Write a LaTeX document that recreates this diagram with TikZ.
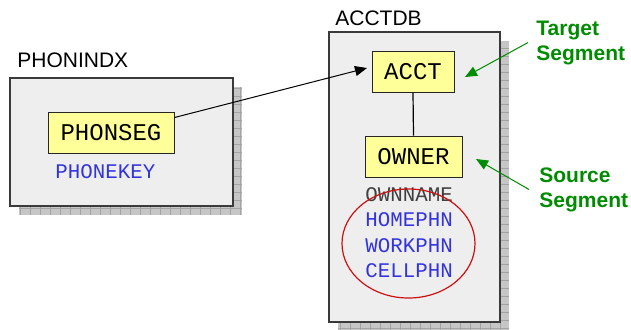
\documentclass[tikz,border=0pt]{standalone}
\usepackage{fontspec}
\setmainfont{Liberation Sans}
\newfontfamily\monofam{Liberation Mono}
\usetikzlibrary{arrows.meta,shapes.geometric}
\definecolor{dbfill}{HTML}{EEEEEE}
\definecolor{dbline}{HTML}{3A3A3A}
\definecolor{shadowfill}{HTML}{C6C6C6}
\definecolor{shadowgrid}{HTML}{A4A4A4}
\definecolor{segfill}{HTML}{FFFF99}
\definecolor{fieldblue}{HTML}{3333DD}
\definecolor{notegreen}{HTML}{008C00}
\definecolor{ringred}{HTML}{CC1111}
\begin{document}
\begin{tikzpicture}[x=0.5pt,y=-0.5pt,
  dbbox/.style={draw=dbline, line width=0.9pt, fill=dbfill, inner sep=0pt},
  segbox/.style={draw=black!85, line width=0.5pt, fill=segfill, inner sep=0pt,
    minimum height=20.5pt, font=\monofam\fontsize{12}{14}\selectfont},
  dbname/.style={anchor=west, inner sep=0pt, font=\fontsize{10.5}{12.5}\selectfont},
  field/.style={anchor=west, inner sep=0pt, text=fieldblue, font=\monofam\fontsize{10.4}{12.5}\selectfont},
  note/.style={anchor=west, inner sep=0pt, align=left, text=notegreen,
    font=\bfseries\fontsize{10.5}{12.5}\selectfont},
  notearrow/.style={draw=notegreen, line width=0.5pt, -{Triangle[length=6pt,width=5pt]}},
  linkarrow/.style={draw=black, line width=0.5pt, -{Triangle[length=6pt,width=5pt]}},
  shadowgrid/.style={draw=shadowgrid, line width=0.3pt}]
\useasboundingbox (0,0) rectangle (631,329);

% drop shadows behind the two databases
\fill[shadowfill] (19,87) rectangle (242,215);
\draw[shadowgrid, xstep=5pt, ystep=4pt] (19,87) grid (242,215);
\fill[shadowfill] (338,41) rectangle (509,331);
\draw[shadowgrid, xstep=5pt, ystep=4pt] (338,41) grid (509,331);

% databases
\node[dbbox, minimum width=111.5pt, minimum height=64pt] (phonindx) at (121.5,142) {};
\node[dbbox, minimum width=85.5pt, minimum height=145pt] (acctdb) at (414.5,177) {};
\node[dbname] (phonindxname) at (17,60) {PHONINDX};
\node[dbname] (acctdbname) at (335,18) {ACCTDB};

% segments
\node[segbox, minimum width=63pt] (phonseg) at (111,132.5) {PHONSEG};
\node[segbox, minimum width=41pt] (acct) at (413,71.5) {ACCT};
\node[segbox, minimum width=48.5pt] (owner) at (413.5,156.5) {OWNER};
\draw[line width=0.6pt] (acct.south) -- (owner.north);

% fields
\node[field] (phonekey) at (55,172) {PHONEKEY};
\node[field, text=black!75] (ownname) at (365,195) {OWNNAME};
\node[field] (homephn) at (365,220) {HOMEPHN};
\node[field] (workphn) at (365,245.5) {WORKPHN};
\node[field] (cellphn) at (365,270.5) {CELLPHN};
\node[draw=ringred, line width=0.6pt, ellipse, minimum width=66.5pt, minimum height=54.5pt, inner sep=0pt]
  (phonegroup) at (408.5,243.5) {};

% index pointer
\coordinate (acctentry) at (367,68);
\draw[linkarrow] ([yshift=-3pt]phonseg.north east) -- (acctentry);

% annotations
\node[note] (target) at (536,42.5) {Target\\Segment};
\node[note] (source) at (539,189.5) {Source\\Segment};
\coordinate (targettip) at (465,77);
\coordinate (sourcetip) at (476,159);
\draw[notearrow] ([xshift=-4pt]target.west) -- (targettip);
\draw[notearrow] ([xshift=-5pt]source.west) -- (sourcetip);
\end{tikzpicture}
\end{document}
